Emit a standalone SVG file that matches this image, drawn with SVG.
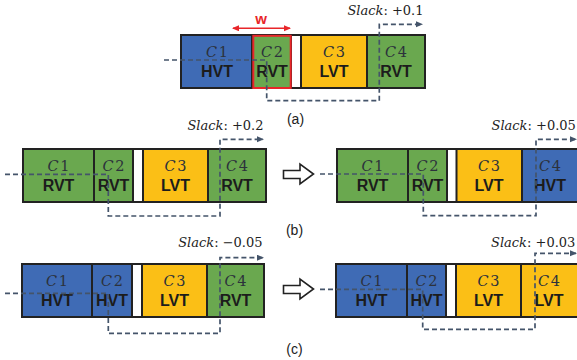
<svg xmlns="http://www.w3.org/2000/svg" width="577" height="360" viewBox="0 0 577 360">
  <style>
    .row { fill: #ffffff; stroke: #222222; stroke-width: 2; }
    .cell { stroke: #222222; stroke-width: 2; }
    .hvt { fill: #3F6BB5; }
    .rvt { fill: #6AA84F; }
    .lvt { fill: #FBBF16; }
    .sel { fill: none; stroke: #E8262A; stroke-width: 2; }
    .cname { font-family: "DejaVu Serif", "Liberation Serif", serif; font-style: italic; font-size: 14.5px; fill: #2c323c; text-anchor: middle; }
    .cname tspan { font-style: normal; }
    .vt { font-family: "Liberation Sans", Arial, sans-serif; font-weight: bold; font-size: 16px; fill: #1c1c1c; text-anchor: middle; }
    .slack { font-family: "DejaVu Serif", "Liberation Serif", serif; font-size: 13px; fill: #222222; }
    .slack .it { font-style: italic; }
    .cap { font-family: "Liberation Sans", Arial, sans-serif; font-size: 14px; fill: #222222; text-anchor: middle; }
    .timing { fill: none; stroke: #44546A; stroke-width: 1.7; stroke-dasharray: 5 3; marker-end: url(#tip); }
    .shift { fill: #ffffff; stroke: #222222; stroke-width: 1.6; stroke-linejoin: miter; }
  </style>
  <defs>
    <marker id="tip" markerUnits="userSpaceOnUse" markerWidth="8" markerHeight="8" refX="6" refY="3" orient="auto">
      <path d="M0,0 L7,3 L0,6 Z" fill="#44546A"/>
    </marker>
    <marker id="wEnd" markerUnits="userSpaceOnUse" markerWidth="8" markerHeight="8" refX="6" refY="3" orient="auto-start-reverse">
      <path d="M0,0 L7,3 L0,6 Z" fill="#E8262A"/>
    </marker>
  </defs>

  <!-- (a) original assignment -->
  <g id="panel-a">
    <rect class="row" x="181" y="35" width="244" height="53"/>
    <g id="a-c1"><rect class="cell hvt" x="181" y="35" width="71" height="53"/>
      <text class="cname" x="217" y="56.5">C<tspan dx="1.5">1</tspan></text><text class="vt" x="217" y="77">HVT</text></g>
    <g id="a-c2"><rect class="cell rvt" x="252" y="35" width="39" height="53"/>
      <text class="cname" x="272" y="56.5">C<tspan dx="1.5">2</tspan></text><text class="vt" x="272" y="77">RVT</text>
      <rect class="sel" x="253.3" y="35.8" width="37.4" height="52.2"/></g>
    <g id="a-c3"><rect class="cell lvt" x="301" y="35" width="66" height="53"/>
      <text class="cname" x="334" y="56.5">C<tspan dx="1.5">3</tspan></text><text class="vt" x="334" y="77">LVT</text></g>
    <g id="a-c4"><rect class="cell rvt" x="367" y="35" width="58" height="53"/>
      <text class="cname" x="396" y="56.5">C<tspan dx="1.5">4</tspan></text><text class="vt" x="396" y="77">RVT</text></g>
    <g id="a-width">
      <line x1="233" y1="28.3" x2="290" y2="28.3" stroke="#E8262A" stroke-width="1.6" marker-start="url(#wEnd)" marker-end="url(#wEnd)"/>
      <text x="261" y="24" font-family="Liberation Sans, Arial, sans-serif" font-weight="bold" font-size="15" fill="#E8262A" text-anchor="middle">w</text>
    </g>
    <text class="slack" x="423.5" y="15" text-anchor="end"><tspan class="it">Slack</tspan>: +0.1</text>
    <text class="cap" x="295.5" y="123.5">(a)</text>
  </g>

  <!-- (b) before and after -->
  <g id="panel-b-before">
    <rect class="row" x="23" y="149" width="243" height="53"/>
    <g id="b1-c1"><rect class="cell rvt" x="23" y="149" width="71" height="53"/>
      <text class="cname" x="58.5" y="170.5">C<tspan dx="1.5">1</tspan></text><text class="vt" x="58.5" y="191">RVT</text></g>
    <g id="b1-c2"><rect class="cell rvt" x="94" y="149" width="39" height="53"/>
      <text class="cname" x="113.5" y="170.5">C<tspan dx="1.5">2</tspan></text><text class="vt" x="113.5" y="191">RVT</text></g>
    <g id="b1-c3"><rect class="cell lvt" x="143" y="149" width="65" height="53"/>
      <text class="cname" x="175.5" y="170.5">C<tspan dx="1.5">3</tspan></text><text class="vt" x="175.5" y="191">LVT</text></g>
    <g id="b1-c4"><rect class="cell rvt" x="208" y="149" width="58" height="53"/>
      <text class="cname" x="237" y="170.5">C<tspan dx="1.5">4</tspan></text><text class="vt" x="237" y="191">RVT</text></g>
    <text class="slack" x="263.5" y="130" text-anchor="end"><tspan class="it">Slack</tspan>: +0.2</text>
  </g>
  <g id="panel-b-after">
    <rect class="row" x="337" y="149" width="243" height="53"/>
    <g id="b2-c1"><rect class="cell rvt" x="337" y="149" width="71" height="53"/>
      <text class="cname" x="372.5" y="170.5">C<tspan dx="1.5">1</tspan></text><text class="vt" x="372.5" y="191">RVT</text></g>
    <g id="b2-c2"><rect class="cell rvt" x="408" y="149" width="39" height="53"/>
      <text class="cname" x="427.5" y="170.5">C<tspan dx="1.5">2</tspan></text><text class="vt" x="427.5" y="191">RVT</text></g>
    <g id="b2-c3"><rect class="cell lvt" x="456.5" y="149" width="65.5" height="53"/>
      <text class="cname" x="489" y="170.5">C<tspan dx="1.5">3</tspan></text><text class="vt" x="489" y="191">LVT</text></g>
    <g id="b2-c4"><rect class="cell hvt" x="522" y="149" width="58" height="53"/>
      <text class="cname" x="550" y="170.5">C<tspan dx="1.5">4</tspan></text><text class="vt" x="550" y="191">HVT</text></g>
    <text class="slack" x="491.5" y="130"><tspan class="it">Slack</tspan>: +0.05</text>
  </g>
  <polygon id="b-shift" class="shift" points="283.5,170.5 300,170.5 300,164 313.5,174 300,184 300,178.5 283.5,178.5"/>
  <text class="cap" x="294.5" y="234.5">(b)</text>

  <!-- (c) before and after -->
  <g id="panel-c-before">
    <rect class="row" x="22" y="264" width="242" height="53"/>
    <g id="c1-c1"><rect class="cell hvt" x="22" y="264" width="70" height="53"/>
      <text class="cname" x="57" y="285.5">C<tspan dx="1.5">1</tspan></text><text class="vt" x="57" y="306">HVT</text></g>
    <g id="c1-c2"><rect class="cell hvt" x="92" y="264" width="40" height="53"/>
      <text class="cname" x="112" y="285.5">C<tspan dx="1.5">2</tspan></text><text class="vt" x="112" y="306">HVT</text></g>
    <g id="c1-c3"><rect class="cell lvt" x="142" y="264" width="65" height="53"/>
      <text class="cname" x="174.5" y="285.5">C<tspan dx="1.5">3</tspan></text><text class="vt" x="174.5" y="306">LVT</text></g>
    <g id="c1-c4"><rect class="cell rvt" x="207" y="264" width="57" height="53"/>
      <text class="cname" x="235.5" y="285.5">C<tspan dx="1.5">4</tspan></text><text class="vt" x="235.5" y="306">RVT</text></g>
    <text class="slack" x="262.5" y="246.5" text-anchor="end"><tspan class="it">Slack</tspan>: −0.05</text>
  </g>
  <g id="panel-c-after">
    <rect class="row" x="336" y="264" width="244" height="53"/>
    <g id="c2-c1"><rect class="cell hvt" x="336" y="264" width="71" height="53"/>
      <text class="cname" x="371.5" y="285.5">C<tspan dx="1.5">1</tspan></text><text class="vt" x="371.5" y="306">HVT</text></g>
    <g id="c2-c2"><rect class="cell hvt" x="407" y="264" width="39" height="53"/>
      <text class="cname" x="426.5" y="285.5">C<tspan dx="1.5">2</tspan></text><text class="vt" x="426.5" y="306">HVT</text></g>
    <g id="c2-c3"><rect class="cell lvt" x="456" y="264" width="65" height="53"/>
      <text class="cname" x="488.5" y="285.5">C<tspan dx="1.5">3</tspan></text><text class="vt" x="488.5" y="306">LVT</text></g>
    <g id="c2-c4"><rect class="cell lvt" x="521" y="264" width="59" height="53"/>
      <text class="cname" x="549" y="285.5">C<tspan dx="1.5">4</tspan></text><text class="vt" x="549" y="306">LVT</text></g>
    <text class="slack" x="491" y="246.5"><tspan class="it">Slack</tspan>: +0.03</text>
  </g>
  <polygon id="c-shift" class="shift" points="283.5,285.5 300,285.5 300,279 313.5,289 300,299 300,293.5 283.5,293.5"/>
  <text class="cap" x="294.5" y="354">(c)</text>

  <!-- timing paths through the cells -->
  <g id="connectors">
    <path class="timing" d="M164,60 H266.7 V100.7 H379.3 V24.3 H422"/>
    <path class="timing" d="M5,174.3 H108.3 V216 H220 V139.3 H263"/>
    <path class="timing" d="M320,174 H423.3 V215.7 H536 V139.3 H576"/>
    <path class="timing" d="M5,293.3 H108.3 V333.3 H220 V257.7 H263"/>
    <path class="timing" d="M320,289.3 H422.7 V329.3 H535 V253.3 H576"/>
  </g>
</svg>
